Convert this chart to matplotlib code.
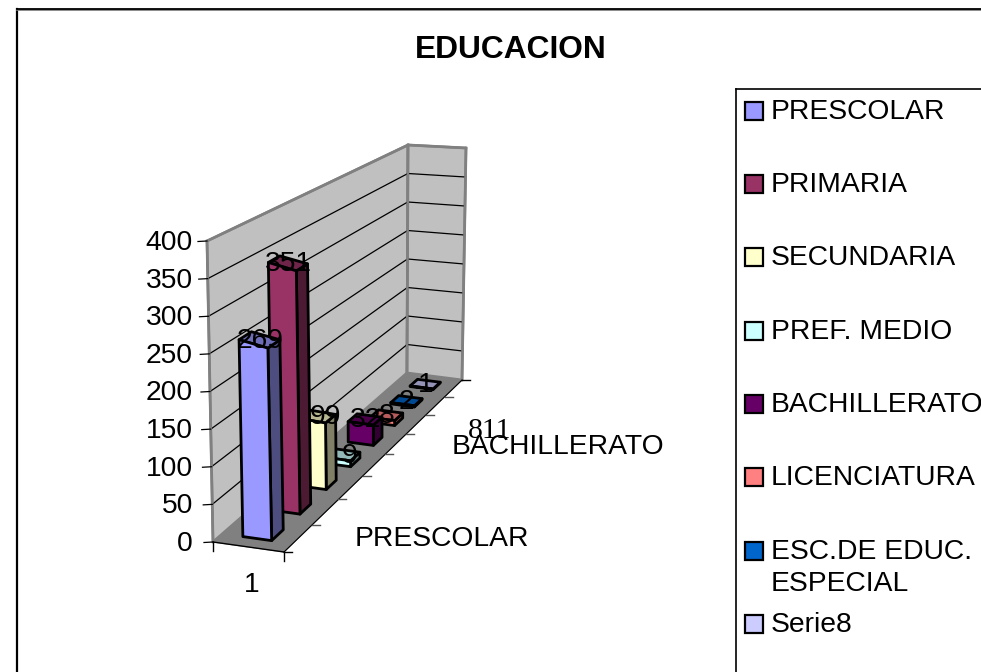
import numpy as np
import matplotlib
matplotlib.use("Agg")
import matplotlib.pyplot as plt
from matplotlib.patches import Polygon, Rectangle

plt.rcParams['font.family'] = ['Liberation Sans', 'DejaVu Sans']

series = ['PRESCOLAR', 'PRIMARIA', 'SECUNDARIA', 'PREF. MEDIO', 'BACHILLERATO',
          'LICENCIATURA', 'ESC.DE EDUC.\nESPECIAL', 'Serie8']
values = [269, 351, 99, 9, 32, 8, 2, 1]
colors = ['#9999FF', '#993366', '#FFFFCC', '#CCFFFF', '#660066', '#FF8080', '#0066CC', '#CCCCFF']
yticks = [0, 50, 100, 150, 200, 250, 300, 350, 400]
YMAX = 400
FS = 20.3

# box corners in pixels: (x side, depth side, top or bottom)
BOX = {
    (0, 0, 0): (213, 542), (1, 0, 0): (284, 552),
    (0, 1, 0): (407, 373), (1, 1, 0): (462, 380),
    (0, 0, 1): (207, 241), (1, 0, 1): (278, 268),
    (0, 1, 1): (408, 145), (1, 1, 1): (466, 148),
}
PERSP = 1.32


def depth(s):
    return PERSP * s / (1 + (PERSP - 1) * s)


def proj(x, s, v):
    # trilinear position inside the box, with foreshortened depth
    d = depth(s)
    z = v / YMAX
    out = np.zeros(2)
    for (i, j, k), p in BOX.items():
        w = (x if i else 1 - x) * (d if j else 1 - d) * (z if k else 1 - z)
        out += w * np.array(p)
    return out


def face(ax, pts, color, ec='black', lw=2.0, z=2):
    ax.add_patch(Polygon(pts, closed=True, facecolor=color, edgecolor=ec,
                         linewidth=lw, joinstyle='round', zorder=z))


def shade(c, f):
    return tuple(f * np.array(matplotlib.colors.to_rgb(c)))


fig = plt.figure(figsize=(9.81, 6.72), dpi=100)
ax = fig.add_axes([0, 0, 1, 1])
ax.set_xlim(0, 981)
ax.set_ylim(672, 0)
ax.axis('off')

# chart frame
ax.plot([16.5, 16.5], [672, 9], color='black', lw=1.6)
ax.plot([16.5, 981], [9.5, 9.5], color='#777777', lw=1.2)
ax.plot([16.5, 981], [8.5, 8.5], color='black', lw=1.3)

ax.text(511, 50, 'EDUCACION', fontsize=22.9, fontweight='bold', ha='center', va='center')

# walls and floor
wall = '#C0C0C0'
line = '#808080'
face(ax, [proj(0, 0, 0), proj(0, 1, 0), proj(0, 1, YMAX), proj(0, 0, YMAX)], wall, line, z=1)
face(ax, [proj(0, 1, 0), proj(1, 1, 0), proj(1, 1, YMAX), proj(0, 1, YMAX)], wall, line, z=1)
face(ax, [proj(0, 0, 0), proj(1, 0, 0), proj(1, 1, 0), proj(0, 1, 0)], line, line, lw=0.8, z=1.2)

# gridlines and value axis
for t in yticks:
    a, b, c = proj(0, 0, t), proj(0, 1, t), proj(1, 1, t)
    if 0 < t < YMAX:
        ax.plot([a[0], b[0], c[0]], [a[1], b[1], c[1]], color='black', lw=0.9, zorder=1.5)
    ax.plot([a[0] - 9, a[0]], [a[1] + 0.5, a[1]], color='black', lw=0.9)
    ax.text(193, a[1] + 2, str(t), fontsize=FS, ha='right', va='center')

# edges of the walls go over the gridlines
for p, q in [((0, 0, YMAX), (0, 1, YMAX)), ((0, 1, YMAX), (1, 1, YMAX)), ((0, 1, 0), (0, 1, YMAX)),
             ((1, 1, 0), (1, 1, YMAX)), ((0, 0, 0), (0, 0, YMAX))]:
    a, b = proj(*p), proj(*q)
    ax.plot([a[0], b[0]], [a[1], b[1]], color=line, lw=1.8, zorder=1.6)

# ticks along floor edges
for i in range(len(series) + 1):
    a = proj(1, i / len(series), 0)
    ax.plot([a[0], a[0] + 8], [a[1], a[1]], color='black' if i in (0, 8) else '#555555', lw=1.0)
for x0 in (0, 1):
    a = proj(x0, 0, 0)
    ax.plot([a[0], a[0]], [a[1], a[1] + 9], color='black', lw=1.0)
a, b = proj(0, 0, 0), proj(1, 0, 0)
ax.plot([a[0], b[0]], [a[1], b[1]], color='black', lw=1.0, zorder=1.7)
a, b = proj(1, 0, 0), proj(1, 1, 0)
ax.plot([a[0], b[0]], [a[1], b[1]], color='black', lw=0.8, zorder=1.7)

# bars, back row first
x0, x1 = 0.29, 0.70
n = len(series)
for i in reversed(range(n)):
    v = values[i]
    s0, s1 = (i + 0.3) / n, (i + 0.7) / n
    zz = 3 + (n - i)
    face(ax, [proj(x1, s0, 0), proj(x1, s1, 0), proj(x1, s1, v), proj(x1, s0, v)],
         shade(colors[i], 0.5), z=zz)
    face(ax, [proj(x0, s0, v), proj(x1, s0, v), proj(x1, s1, v), proj(x0, s1, v)],
         shade(colors[i], 0.72), z=zz)
    face(ax, [proj(x0, s0, 0), proj(x1, s0, 0), proj(x1, s0, v), proj(x0, s0, v)],
         colors[i], z=zz)

# value labels sit on top of the bars; the two short middle ones lean right
label_dx = [1, 0, 8, 7, 0, 0, 0, 0]
for i, v in enumerate(values):
    c = proj((x0 + x1) / 2, (i + 0.5) / n, v)
    ax.text(c[0] + label_dx[i], c[1] + 1, str(v), fontsize=FS, ha='center', va='center', zorder=20)

# axis captions
ax.text(252, 585, '1', fontsize=FS, ha='center', va='center')
ax.text(355, 539, 'PRESCOLAR', fontsize=FS, ha='left', va='center')
ax.text(452, 447, 'BACHILLERATO', fontsize=FS, ha='left', va='center', zorder=21)
ax.text(490, 431, '811', fontsize=21.5, family=['Liberation Serif'], ha='center', va='center', zorder=21)

# legend
ax.plot([736, 736], [672, 89], color='black', lw=1.2)
ax.plot([736, 981], [89, 89], color='black', lw=1.2)
leg_y = [111, 184, 257, 331, 404, 477, 551, 624]
for name, col, y in zip(series, colors, leg_y):
    ax.add_patch(Rectangle((745, y - 9), 18, 18, facecolor=col, edgecolor='black', lw=1.6))
    lines = name.split('\n')
    ax.text(771, y + 1, lines[0], fontsize=FS, ha='left', va='center')
    if len(lines) > 1:
        ax.text(771, y + 33, lines[1], fontsize=FS, ha='left', va='center')

fig.savefig('out.png', dpi=100)
